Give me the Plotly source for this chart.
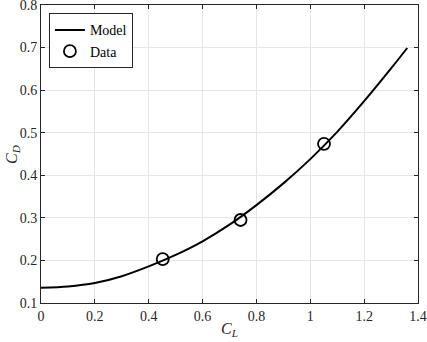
import plotly.graph_objects as go

model_cl = [0.0, 0.1, 0.2, 0.3, 0.4, 0.5, 0.6, 0.7, 0.8, 0.9, 1.0, 1.1, 1.2, 1.3, 1.36]
model_cd = [0.136, 0.139, 0.147, 0.163, 0.186, 0.213, 0.245, 0.284, 0.330, 0.381, 0.438, 0.502, 0.574, 0.651, 0.699]

data_cl = [0.452, 0.741, 1.051]
data_cd = [0.203, 0.295, 0.474]

x_ticks = [0, 0.2, 0.4, 0.6, 0.8, 1.0, 1.2, 1.4]
x_tick_labels = ["0", "0.2", "0.4", "0.6", "0.8", "1", "1.2", "1.4"]
y_ticks = [0.1, 0.2, 0.3, 0.4, 0.5, 0.6, 0.7, 0.8]
y_tick_labels = ["0.1", "0.2", "0.3", "0.4", "0.5", "0.6", "0.7", "0.8"]

font_family = "Liberation Serif, DejaVu Serif, serif"
axis_color = "#262626"

fig = go.Figure()
fig.add_trace(go.Scatter(x=model_cl, y=model_cd, mode="lines", name="Model",
                         line=dict(color="black", width=2, shape="spline", smoothing=0.8)))
fig.add_trace(go.Scatter(x=data_cl, y=data_cd, mode="markers", name="Data",
                         marker=dict(symbol="circle-open", size=12, color="black",
                                     line=dict(width=1.8, color="black"))))

axis_common = dict(showline=True, linecolor=axis_color, linewidth=1, mirror="ticks",
                   ticks="inside", ticklen=4, tickcolor=axis_color, automargin=False,
                   ticklabeloverflow="allow",
                   showgrid=True, gridcolor="#e5e5e5", gridwidth=1, zeroline=False,
                   tickfont=dict(family=font_family, size=14, color=axis_color))

fig.update_layout(
    width=427, height=342,
    margin=dict(l=41, r=9, t=5, b=39),
    paper_bgcolor="white", plot_bgcolor="white",
    font=dict(family=font_family, size=14, color=axis_color),
    xaxis=dict(range=[0, 1.4], tickvals=x_ticks, ticktext=x_tick_labels, **axis_common),
    yaxis=dict(range=[0.1, 0.8], tickvals=y_ticks, ticktext=y_tick_labels, **axis_common),
    legend=dict(x=0.021, y=0.972, xanchor="left", yanchor="top", xref="paper", yref="paper",
                bgcolor="white", bordercolor=axis_color, borderwidth=1,
                font=dict(family=font_family, size=14, color="black"),
                tracegroupgap=0, itemwidth=30),
    showlegend=True,
    annotations=[
        dict(text="<i>C</i><sub><i>L</i></sub>", xref="paper", yref="paper",
             x=0.5, y=-0.09, xanchor="center", yanchor="middle", showarrow=False,
             font=dict(family=font_family, size=16, color=axis_color)),
        dict(text="<i>C</i><sub><i>D</i></sub>", xref="paper", yref="paper",
             x=-0.077, y=0.5, xanchor="center", yanchor="middle", showarrow=False,
             textangle=-90, font=dict(family=font_family, size=16, color=axis_color)),
    ],
)

fig.write_html("out.html", config={"displayModeBar": False},
               post_script="document.body.style.margin='0px';document.body.style.padding='0px';")
